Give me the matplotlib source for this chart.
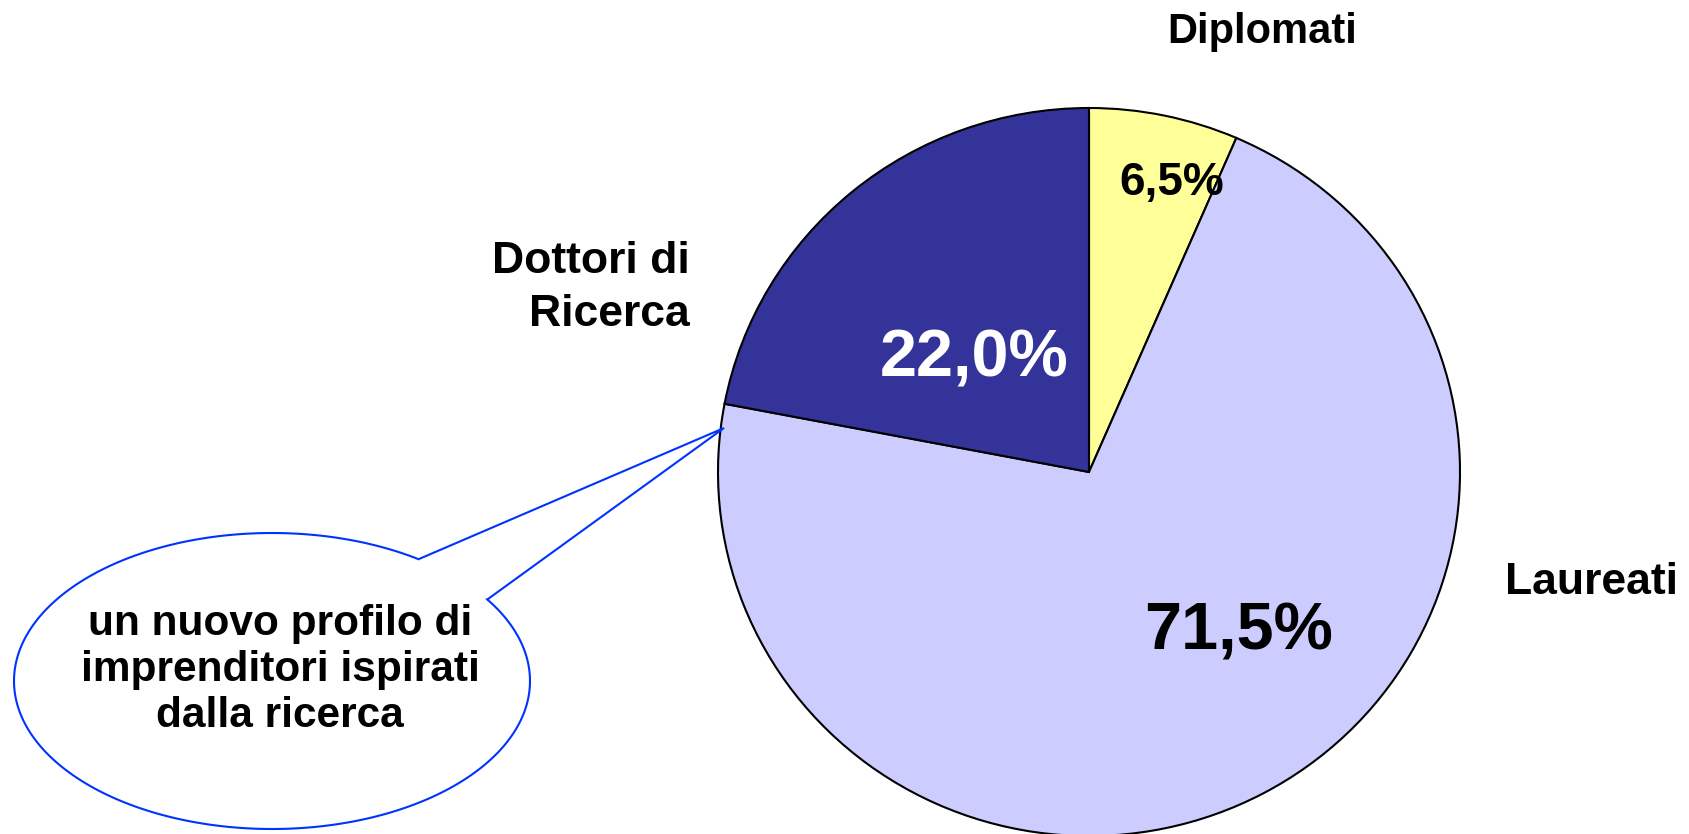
import numpy as np
import matplotlib
matplotlib.use("Agg")
import matplotlib.pyplot as plt
from matplotlib.patches import Polygon

plt.rcParams['font.family'] = ['Liberation Sans', 'DejaVu Sans']

# data
categories = ['Diplomati', 'Laureati', 'Dottori di\nRicerca']
shares = [6.5, 71.5, 22.0]
colors = ['#FFFF99', '#CCCCFF', '#333399']
callout_text = 'un nuovo profilo di\nimprenditori ispirati\ndalla ricerca'

W, H = 1689, 834
fig = plt.figure(figsize=(W / 100, H / 100), dpi=100)

# pie axes: radius 1 around (0,0), limits chosen so the pie sits where it does in the original
cx, cy, rx, ry = 1089, 472, 371, 364
ax = fig.add_axes([0, 0, 1, 1])
ax.pie(shares, colors=colors, startangle=90, counterclock=False, radius=1,
       wedgeprops=dict(edgecolor='black', linewidth=1.5))
ax.set_aspect('auto')
ax.set_xlim(-cx / rx, (W - cx) / rx)
ax.set_ylim((cy - H) / ry, cy / ry)
ax.axis('off')

# overlay in pixel coordinates for labels and the callout
ov = fig.add_axes([0, 0, 1, 1], facecolor='none')
ov.set_xlim(0, W)
ov.set_ylim(H, 0)
ov.axis('off')

def pct(v):
    return f"{v:.1f}".replace('.', ',') + '%'

ov.text(1262, 32, categories[0], ha='center', va='center', fontsize=30, fontweight='bold')
ov.text(1505, 582, categories[1], ha='left', va='center', fontsize=32, fontweight='bold')
ov.text(690, 288, categories[2], ha='right', va='center', fontsize=32, fontweight='bold',
        linespacing=1.35)

ov.text(1172, 183, pct(shares[0]), ha='center', va='center', fontsize=33, fontweight='bold')
ov.text(1239, 633, pct(shares[1]), ha='center', va='center', fontsize=48, fontweight='bold')
ov.text(974, 359, pct(shares[2]), ha='center', va='center', fontsize=48, fontweight='bold',
        color='white')

# speech-bubble callout: ellipse with a gap and a pointed tail
ex, ey, ea, eb = 272, 681, 258, 148
p1 = np.array([419, 559])
p2 = np.array([488, 599])
tip = np.array([724, 428])
t1 = np.arctan2((p1[1] - ey) / eb, (p1[0] - ex) / ea)
t2 = np.arctan2((p2[1] - ey) / eb, (p2[0] - ex) / ea)
ts = np.linspace(t2, t1 + 2 * np.pi, 300)
arc = np.column_stack([ex + ea * np.cos(ts), ey + eb * np.sin(ts)])
pts = np.vstack([arc, p1, tip, p2])
ov.add_patch(Polygon(pts, closed=True, facecolor='white', edgecolor='#0033FF', linewidth=1.5))

ov.text(280, 670, callout_text, ha='center', va='center', fontsize=30.5, fontweight='bold',
        linespacing=1.19)

fig.savefig('out.png', dpi=100)
